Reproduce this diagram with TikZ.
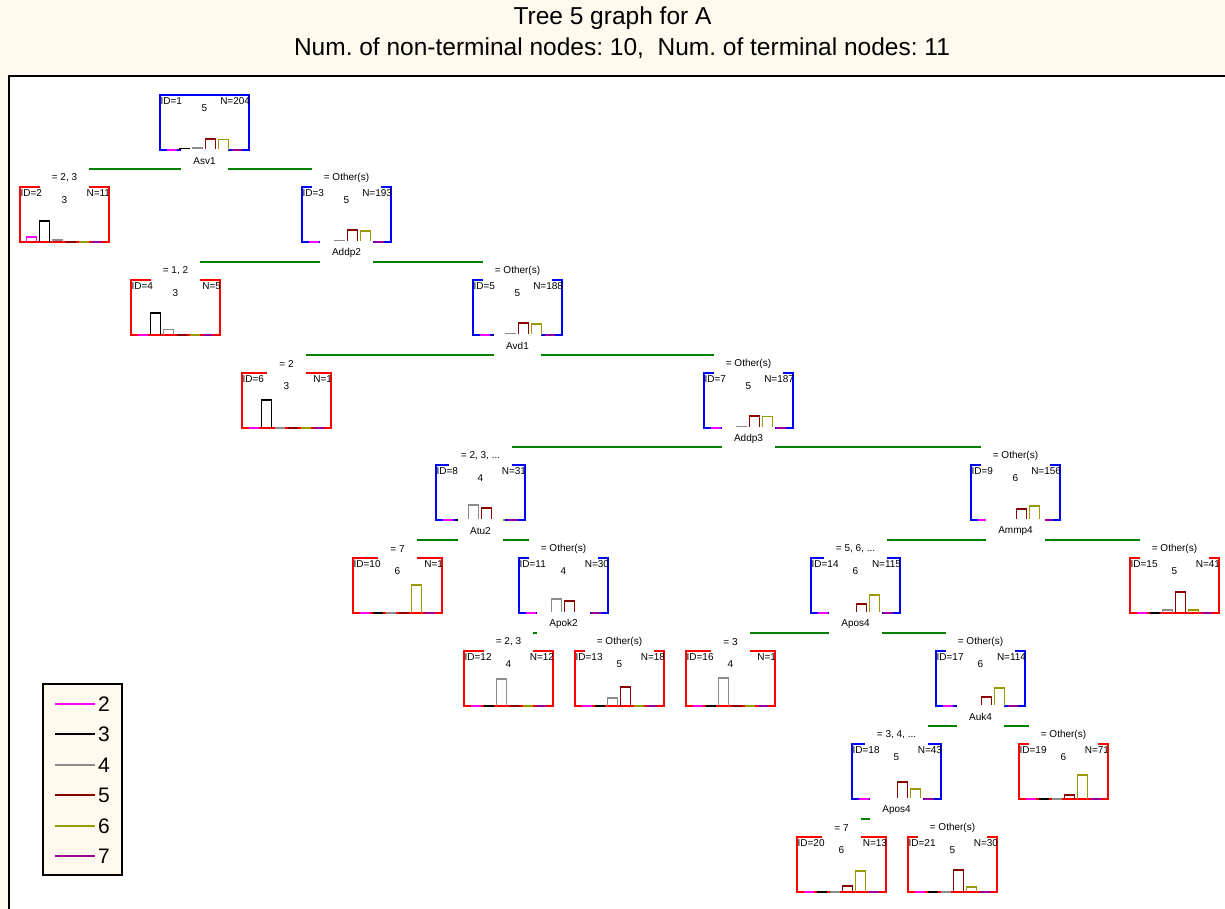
\documentclass[tikz,border=0pt]{standalone}
\usepackage{fontspec}
\setmainfont{Liberation Sans}
\usetikzlibrary{calc}
\frenchspacing
\definecolor{cream}{HTML}{FFF9EE}
\definecolor{treegreen}{HTML}{008000}
\definecolor{nodeblue}{HTML}{0000FF}
\definecolor{nodered}{HTML}{FF0000}
\definecolor{bc0}{HTML}{FF00FF}
\definecolor{bc1}{HTML}{000000}
\definecolor{bc2}{HTML}{8C8C8C}
\definecolor{bc3}{HTML}{8B0000}
\definecolor{bc4}{HTML}{999900}
\definecolor{bc5}{HTML}{990099}
\pgfdeclarelayer{fg}
\pgfsetlayers{main,fg}
\tikzset{
  tbox/.style={rectangle, minimum width=89pt, minimum height=55pt, inner sep=0pt, outer sep=0pt, line width=1.8pt},
  bar/.style={line width=1.6pt},
  txt/.style={font=\fontsize{10}{12}\selectfont, inner sep=0pt, outer sep=0pt},
  lbl/.style={fill=white, font=\fontsize{10}{12}\selectfont, inner xsep=12pt, inner ysep=0pt, minimum height=24pt, outer sep=0pt},
  splitline/.style={draw=treegreen, line width=1.8pt},
  legline/.style={line width=1.8pt},
  legtxt/.style={font=\fontsize{21}{24}\selectfont, inner sep=0pt, anchor=west},
  titletxt/.style={font=\fontsize{24.5}{28}\selectfont, inner sep=0pt},
}
% #1 name, #2 x, #3 y, #4 id, #5 N, #6 class, #7 colour, #8 bar heights
\newcommand\tnode[8]{%
  \node[tbox, draw=#7] (#1) at (#2+44.5, #3+27.5) {};
  \foreach \h [count=\i from 0] in {#8} {
    \draw[bar, draw=bc\i] ($(#1.south west)+(6.5+13*\i,0)$) -- ++(0,-\h) -- ++(10,0) -- ++(0,\h);
  }
  \begin{pgfonlayer}{fg}
    \node[txt, anchor=west] (#1id) at ($(#1.north west)+(0.6,6)$) {ID=#4};
    \node[txt, anchor=east] (#1n) at ($(#1.north east)+(1,6)$) {N=#5};
    \node[txt] (#1c) at ($(#1.north)+(0,13)$) {#6};
  \end{pgfonlayer}
}
% split: #1 parent, #2 left child, #3 right child, #4 variable
\newcommand\tsplit[4]{%
  \draw[splitline] ($(#2.north)+(0,-18)$) -- ($(#3.north)+(0,-18)$);
  \node[lbl] (#1var) at ($(#1.south)+(0,11)$) {#4};
}
\newcommand\tcond[2]{%
  \node[lbl] (#1cond) at ($(#1.north)+(0,-9)$) {#2};
}
\begin{document}
\begin{tikzpicture}[x=1pt, y=-1pt]
\useasboundingbox (0,0) rectangle (1225,909);
\fill[cream] (0,0) rectangle (1225,909);
\fill[white] (9,76) rectangle (1225,909);
\draw[line width=2pt] (9,909) -- (9,76) -- (1225,76);
\node[titletxt] (title1) at (612.5,18) {Tree 5 graph for A};
\node[titletxt] (title2) at (622,48) {Num. of non-terminal nodes: 10,\ \ Num. of terminal nodes: 11};

\tnode{n1}{160}{95}{1}{204}{5}{nodeblue}{0,0.7,2,11,10.5,0}
\tnode{n2}{20}{187}{2}{11}{3}{nodered}{5,21,2,0,0,0}
\tnode{n3}{302}{187}{3}{193}{5}{nodeblue}{0,0,1.5,12,11,0}
\tnode{n4}{131}{280}{4}{5}{3}{nodered}{0,22,5.5,0,0,0}
\tnode{n5}{473}{280}{5}{188}{5}{nodeblue}{0,0,1.5,12,11,0}
\tnode{n6}{242}{373}{6}{1}{3}{nodered}{0,28,0,0,0,0}
\tnode{n7}{704}{373}{7}{187}{5}{nodeblue}{0,0,1.5,12,11.5,0}
\tnode{n8}{436}{465}{8}{31}{4}{nodeblue}{0,0,15,12,0,0}
\tnode{n9}{971}{465}{9}{156}{6}{nodeblue}{0,0,0,11,14,0}
\tnode{n10}{353}{558}{10}{1}{6}{nodered}{0,0,0,0,28,0}
\tnode{n11}{519}{558}{11}{30}{4}{nodeblue}{0,0,14,12,0,0}
\tnode{n14}{811}{558}{14}{115}{6}{nodeblue}{0,0,0,9,18,0}
\tnode{n15}{1130}{558}{15}{41}{5}{nodered}{0,0,3,21,3,0}
\tnode{n12}{464}{651}{12}{12}{4}{nodered}{0,0,27,0,0,0}
\tnode{n13}{575}{651}{13}{18}{5}{nodered}{0,0,8,19,0,0}
\tnode{n16}{686}{651}{16}{1}{4}{nodered}{0,0,28,0,0,0}
\tnode{n17}{936}{651}{17}{114}{6}{nodeblue}{0,0,0,9,18,0}
\tnode{n18}{852}{744}{18}{43}{5}{nodeblue}{0,0,0,17,10,0}
\tnode{n19}{1019}{744}{19}{71}{6}{nodered}{0,0,0,4,24,0}
\tnode{n20}{797}{837}{20}{13}{6}{nodered}{0,0,0,6,21,0}
\tnode{n21}{908}{837}{21}{30}{5}{nodered}{0,0,0,22,5,0}

\tsplit{n1}{n2}{n3}{Asv1}
\tsplit{n3}{n4}{n5}{Addp2}
\tsplit{n5}{n6}{n7}{Avd1}
\tsplit{n7}{n8}{n9}{Addp3}
\tsplit{n8}{n10}{n11}{Atu2}
\tsplit{n9}{n14}{n15}{Ammp4}
\tsplit{n11}{n12}{n13}{Apok2}
\tsplit{n14}{n16}{n17}{Apos4}
\tsplit{n17}{n18}{n19}{Auk4}
\tsplit{n18}{n20}{n21}{Apos4}

\tcond{n2}{= 2, 3}
\tcond{n3}{= Other(s)}
\tcond{n4}{= 1, 2}
\tcond{n5}{= Other(s)}
\tcond{n6}{= 2}
\tcond{n7}{= Other(s)}
\tcond{n8}{= 2, 3, ...}
\tcond{n9}{= Other(s)}
\tcond{n10}{= 7}
\tcond{n11}{= Other(s)}
\tcond{n14}{= 5, 6, ...}
\tcond{n15}{= Other(s)}
\tcond{n12}{= 2, 3}
\tcond{n13}{= Other(s)}
\tcond{n16}{= 3}
\tcond{n17}{= Other(s)}
\tcond{n18}{= 3, 4, ...}
\tcond{n19}{= Other(s)}
\tcond{n20}{= 7}
\tcond{n21}{= Other(s)}

\node[draw, line width=2pt, fill=cream, minimum width=79pt, minimum height=191pt, inner sep=0pt] (legend) at (82.5,779.5) {};
\foreach \c/\t/\yy in {0/2/704, 1/3/734, 2/4/765, 3/5/795, 4/6/826, 5/7/856} {
  \draw[legline, draw=bc\c] (55,\yy) -- (95,\yy);
  \node[legtxt] (leg\t) at (98,\yy) {\t};
}
\end{tikzpicture}
\end{document}
